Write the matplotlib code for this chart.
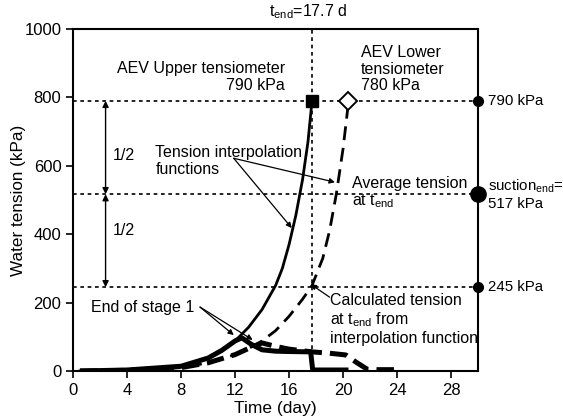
import numpy as np
import matplotlib
matplotlib.use("Agg")
import matplotlib.pyplot as plt

plt.rcParams['font.family'] = ['Liberation Sans', 'DejaVu Sans']
plt.rcParams['mathtext.fontset'] = 'custom'
plt.rcParams['mathtext.rm'] = 'Liberation Sans'
plt.rcParams['mathtext.it'] = 'Liberation Sans:italic'

# --- data ---
# tension interpolation function, upper tensiometer (solid)
upper_t = [0.5, 2, 4, 6, 8, 9, 10, 11, 12, 13, 14, 15, 15.5, 16, 16.5, 17, 17.4, 17.7]
upper_v = [0, 1, 3, 6, 14, 24, 38, 58, 88, 128, 180, 250, 300, 370, 455, 560, 670, 790]

# tension interpolation function, lower tensiometer (dashed)
lower_t = [0.5, 2, 4, 6, 8, 10, 12, 13, 14, 15, 16, 17, 17.7, 18.5, 19, 19.5, 20, 20.4]
lower_v = [0, 1, 2, 5, 10, 24, 48, 66, 88, 118, 160, 210, 250, 330, 410, 517, 650, 785]

# thick curves (stage 1 / evaporation), upper and lower
stage_up_t = [0.5, 4, 8, 10, 11, 12, 12.5, 13.2, 14, 15, 16, 17.6, 17.75, 18, 20.4]
stage_up_v = [0, 3, 14, 38, 60, 88, 97, 78, 62, 58, 57, 56, 3, 3, 3]
stage_low_t = [0.5, 4, 8, 10, 12, 13, 14, 15, 16, 17.7, 19, 20.2, 21, 21.8, 22.5, 24]
stage_low_v = [0, 2, 10, 24, 48, 66, 82, 72, 64, 56, 52, 47, 25, 5, 4, 4]

t_end = 17.7
levels = [790, 517, 245]
level_labels = ['790 kPa', 'suction$_{\\mathrm{end}}$=\n517 kPa', '245 kPa']
level_sizes = [7, 11, 7]
xticks = [0, 4, 8, 12, 16, 20, 24, 28]
yticks = [0, 200, 400, 600, 800, 1000]

fig = plt.figure(figsize=(5.63, 4.18), dpi=100)
ax = fig.add_axes([0.130, 0.1124, 0.719, 0.8182])

# reference lines
for lv in levels:
    ax.plot([0, 30], [lv, lv], color='black', lw=1.2, ls=(0, (2.2, 2.2)))
ax.plot([t_end, t_end], [0, 1000], color='black', lw=1.2, ls=(0, (2.2, 2.2)))

# curves
ax.plot(stage_up_t, stage_up_v, color='black', lw=3.6, solid_capstyle='butt')
ax.plot(stage_low_t, stage_low_v, color='black', lw=3.6, ls=(0, (3.5, 1.6)))
ax.plot(upper_t, upper_v, color='black', lw=2.0)
ax.plot(lower_t, lower_v, color='black', lw=2.0, ls=(0, (5, 2.8)))

# AEV markers
ax.plot([t_end], [790], marker='s', ms=9, color='black', zorder=5)
ax.plot([lower_t[-1]], [790], marker='D', ms=9, mfc='white', mec='black', mew=1.4, zorder=5)

# points on right spine
for lv, lab, sz in zip(levels, level_labels, level_sizes):
    ax.plot([30], [lv], marker='o', ms=sz, color='black', clip_on=False, zorder=6)
    ax.text(30.75, lv, lab, fontsize=10.8, ha='left', va='center', linespacing=1.15)

# double arrows for the halves
arr = dict(arrowstyle='<|-|>', color='black', lw=1.0, mutation_scale=9, shrinkA=0, shrinkB=0)
ax.annotate('', xy=(2.4, 790), xytext=(2.4, 517), arrowprops=arr)
ax.annotate('', xy=(2.4, 517), xytext=(2.4, 245), arrowprops=arr)
ax.text(2.95, 629, '1/2', fontsize=11.5, va='center')
ax.text(2.95, 412, '1/2', fontsize=11.5, va='center')

# text annotations
fs = 11.5
ax.text(15.7, 860, 'AEV Upper tensiometer\n790 kPa', fontsize=fs, ha='right', va='center',
        multialignment='right', linespacing=1.15)
ax.text(21.3, 883, 'AEV Lower\ntensiometer\n780 kPa', fontsize=fs, ha='left', va='center',
        linespacing=1.15)
ax.text(6.1, 615, 'Tension interpolation\nfunctions', fontsize=fs, ha='left', va='center',
        linespacing=1.15)
ax.text(20.7, 521, 'Average tension\nat t$_{\\mathrm{end}}$', fontsize=fs, ha='left', va='center',
        linespacing=1.15)
ax.text(1.3, 187, 'End of stage 1', fontsize=fs, ha='left', va='center')
ax.text(19.0, 150, 'Calculated tension\nat t$_{\\mathrm{end}}$ from\ninterpolation function', fontsize=fs,
        ha='left', va='center', linespacing=1.15)
ax.text(17.4, 1022, 't$_{\\mathrm{end}}$=17.7 d', fontsize=fs, ha='center', va='bottom', clip_on=False)

thin = dict(arrowstyle='-|>', color='black', lw=0.9, mutation_scale=8, shrinkA=0, shrinkB=0)
ax.annotate('', xy=(16.2, 418), xytext=(11.9, 622), arrowprops=thin)
ax.annotate('', xy=(19.4, 552), xytext=(11.9, 622), arrowprops=thin)
ax.annotate('', xy=(11.9, 105), xytext=(9.4, 187), arrowprops=thin)
ax.annotate('', xy=(13.3, 91), xytext=(9.4, 187), arrowprops=thin)
ax.annotate('', xy=(17.6, 254), xytext=(19.0, 216), arrowprops=thin)

ax.set_xlim(0, 30)
ax.set_ylim(0, 1000)
ax.set_xticks(xticks)
ax.set_yticks(yticks)
ax.tick_params(labelsize=12, length=5, width=1.2, direction='out')
for s in ax.spines.values():
    s.set_linewidth(1.5)
ax.set_xlabel('Time (day)', fontsize=12.5, labelpad=2)
ax.set_ylabel('Water tension (kPa)', fontsize=12.3, labelpad=-1.5)

fig.savefig('out.png', dpi=100)
